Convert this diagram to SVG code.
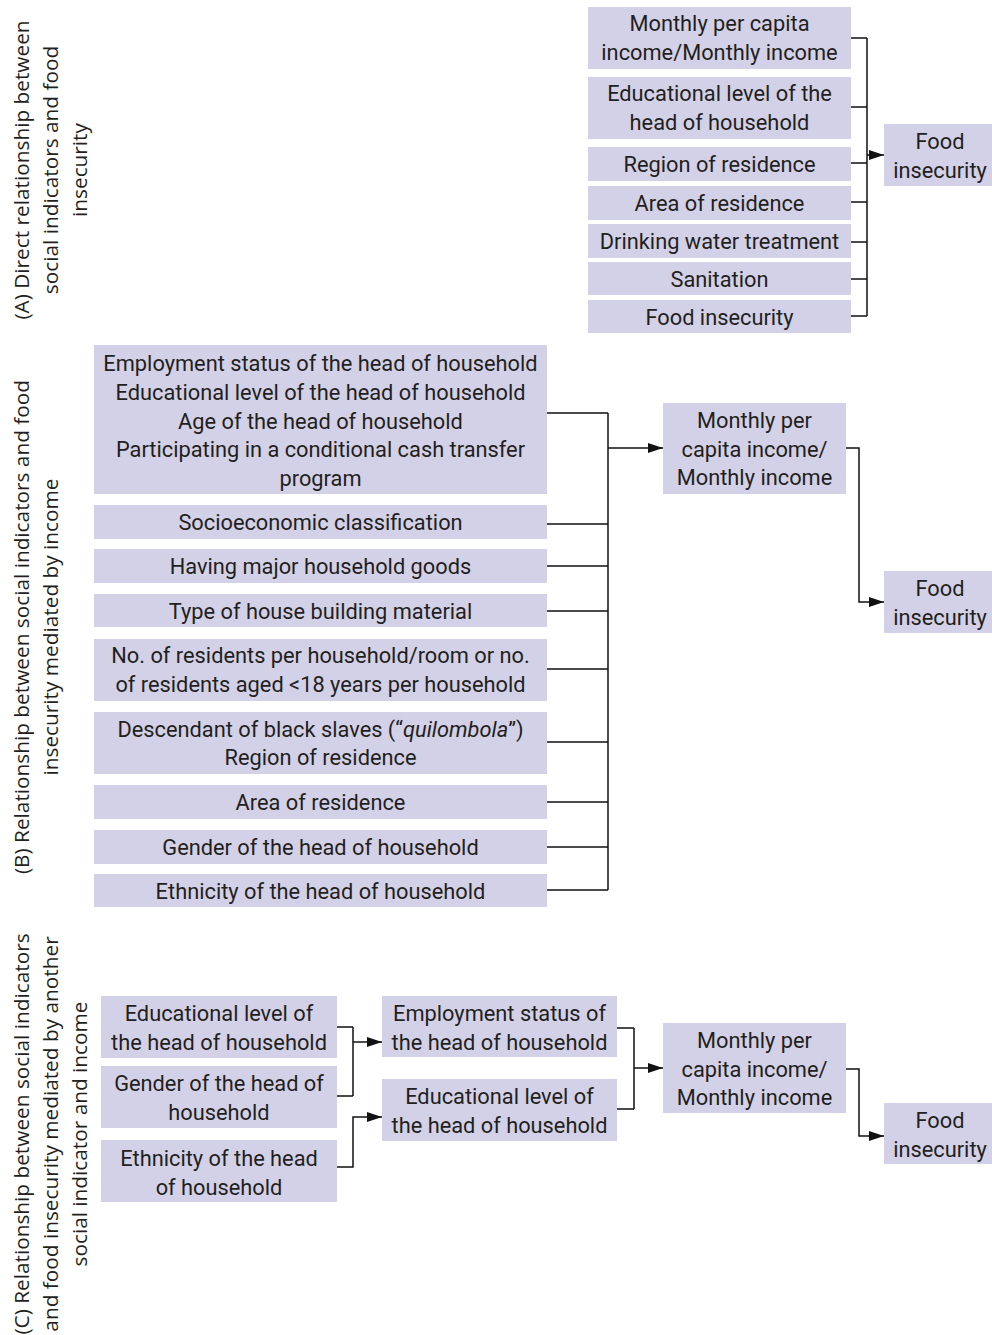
<svg xmlns="http://www.w3.org/2000/svg" width="992" height="1335" viewBox="0 0 992 1335">
<style>
.b{fill:#D3D1E7}
.t{font-family:Roboto,"Liberation Sans",sans-serif;font-size:21.8px;fill:#231F20;text-anchor:middle}
.l{font-family:"Open Sans","Noto Sans",sans-serif;font-size:20.8px;fill:#231F20;text-anchor:middle}
.c{fill:none;stroke:#111;stroke-width:1.5}
</style>
<defs>
<marker id="ah" markerUnits="userSpaceOnUse" markerWidth="16" markerHeight="12" refX="15" refY="6" orient="auto">
<path d="M0,1 L15,6 L0,11 Z" fill="#111"/>
</marker>
</defs>
<rect width="992" height="1335" fill="#fff"/>

<g id="labels">
<text class="l" transform="translate(0,170) rotate(-90)"><tspan x="0" y="29">(A) Direct relationship between</tspan><tspan x="0" y="58">social indicators and food</tspan><tspan x="0" y="87">insecurity</tspan></text>
<text class="l" transform="translate(0,627) rotate(-90)"><tspan x="0" y="29">(B) Relationship between social indicators and food</tspan><tspan x="0" y="58">insecurity mediated by income</tspan></text>
<text class="l" transform="translate(0,1134) rotate(-90)"><tspan x="0" y="29">(C) Relationship between social indicators</tspan><tspan x="0" y="58">and food insecurity mediated by another</tspan><tspan x="0" y="87">social indicator and income</tspan></text>
</g>

<g id="A1"><rect class="b" x="588" y="7" width="263" height="62"/><text class="t"><tspan x="719.5" y="31">Monthly per capita</tspan><tspan x="719.5" y="60">income/Monthly income</tspan></text></g>
<g id="A2"><rect class="b" x="588" y="77" width="263" height="62"/><text class="t"><tspan x="719.5" y="101">Educational level of the</tspan><tspan x="719.5" y="130">head of household</tspan></text></g>
<g id="A3"><rect class="b" x="588" y="147" width="263" height="34"/><text class="t" x="719.5" y="172">Region of residence</text></g>
<g id="A4"><rect class="b" x="588" y="186" width="263" height="34"/><text class="t" x="719.5" y="211">Area of residence</text></g>
<g id="A5"><rect class="b" x="588" y="224" width="263" height="34"/><text class="t" x="719.5" y="249">Drinking water treatment</text></g>
<g id="A6"><rect class="b" x="588" y="262" width="263" height="33"/><text class="t" x="719.5" y="287">Sanitation</text></g>
<g id="A7"><rect class="b" x="588" y="300" width="263" height="33"/><text class="t" x="719.5" y="325">Food insecurity</text></g>
<g id="AF"><rect class="b" x="884" y="124" width="108" height="62"/><text class="t"><tspan x="940" y="149">Food</tspan><tspan x="940" y="178">insecurity</tspan></text></g>

<g id="B1"><rect class="b" x="94" y="345" width="453" height="149"/><text class="t"><tspan x="320.5" y="371">Employment status of the head of household</tspan><tspan x="320.5" y="400">Educational level of the head of household</tspan><tspan x="320.5" y="429">Age of the head of household</tspan><tspan x="320.5" y="457">Participating in a conditional cash transfer</tspan><tspan x="320.5" y="486">program</tspan></text></g>
<g id="B2"><rect class="b" x="94" y="505" width="453" height="34"/><text class="t" x="320.5" y="530">Socioeconomic classification</text></g>
<g id="B3"><rect class="b" x="94" y="549" width="453" height="34"/><text class="t" x="320.5" y="574">Having major household goods</text></g>
<g id="B4"><rect class="b" x="94" y="594" width="453" height="33"/><text class="t" x="320.5" y="619">Type of house building material</text></g>
<g id="B5"><rect class="b" x="94" y="639" width="453" height="62"/><text class="t"><tspan x="320.5" y="663">No. of residents per household/room or no.</tspan><tspan x="320.5" y="692">of residents aged &lt;18 years per household</tspan></text></g>
<g id="B6"><rect class="b" x="94" y="712" width="453" height="62"/><text class="t"><tspan x="320.5" y="737">Descendant of black slaves (“<tspan font-style="italic">quilombola</tspan>”)</tspan><tspan x="320.5" y="765">Region of residence</tspan></text></g>
<g id="B7"><rect class="b" x="94" y="785" width="453" height="34"/><text class="t" x="320.5" y="810">Area of residence</text></g>
<g id="B8"><rect class="b" x="94" y="830" width="453" height="34"/><text class="t" x="320.5" y="855">Gender of the head of household</text></g>
<g id="B9"><rect class="b" x="94" y="874" width="453" height="33"/><text class="t" x="320.5" y="899">Ethnicity of the head of household</text></g>
<g id="BM"><rect class="b" x="663" y="403" width="183" height="91"/><text class="t"><tspan x="754.5" y="428">Monthly per</tspan><tspan x="754.5" y="457">capita income/</tspan><tspan x="754.5" y="485">Monthly income</tspan></text></g>
<g id="BF"><rect class="b" x="884" y="571" width="108" height="62"/><text class="t"><tspan x="940" y="596">Food</tspan><tspan x="940" y="625">insecurity</tspan></text></g>

<g id="C1"><rect class="b" x="101" y="996" width="236" height="62"/><text class="t"><tspan x="219" y="1021">Educational level of</tspan><tspan x="219" y="1050">the head of household</tspan></text></g>
<g id="C2"><rect class="b" x="101" y="1066" width="236" height="62"/><text class="t"><tspan x="219" y="1091">Gender of the head of</tspan><tspan x="219" y="1120">household</tspan></text></g>
<g id="C3"><rect class="b" x="101" y="1140" width="236" height="62"/><text class="t"><tspan x="219" y="1166">Ethnicity of the head</tspan><tspan x="219" y="1195">of household</tspan></text></g>
<g id="C4"><rect class="b" x="382" y="996" width="235" height="61"/><text class="t"><tspan x="499.5" y="1021">Employment status of</tspan><tspan x="499.5" y="1050">the head of household</tspan></text></g>
<g id="C5"><rect class="b" x="382" y="1079" width="235" height="62"/><text class="t"><tspan x="499.5" y="1104">Educational level of</tspan><tspan x="499.5" y="1133">the head of household</tspan></text></g>
<g id="CM"><rect class="b" x="663" y="1023" width="183" height="90"/><text class="t"><tspan x="754.5" y="1048">Monthly per</tspan><tspan x="754.5" y="1077">capita income/</tspan><tspan x="754.5" y="1105">Monthly income</tspan></text></g>
<g id="CF"><rect class="b" x="884" y="1103" width="108" height="61"/><text class="t"><tspan x="940" y="1128">Food</tspan><tspan x="940" y="1157">insecurity</tspan></text></g>

<g id="connectors">
<path class="c" d="M851,38 H867 M851,107 H867 M851,163 H867 M851,202 H867 M851,242 H867 M851,279 H867 M851,316 H867 M867,38 V316"/>
<path class="c" d="M867,155 H884" marker-end="url(#ah)"/>
<path class="c" d="M547,413 H608 M547,524 H608 M547,566 H608 M547,611 H608 M547,669 H608 M547,742 H608 M547,802 H608 M547,847 H608 M547,890 H608 M608,413 V890"/>
<path class="c" d="M608,448 H663" marker-end="url(#ah)"/>
<path class="c" d="M846,448 H859 V602 H884" marker-end="url(#ah)"/>
<path class="c" d="M337,1027 H353 M337,1096 H353 M353,1027 V1096"/>
<path class="c" d="M353,1042 H382" marker-end="url(#ah)"/>
<path class="c" d="M337,1167 H353 V1117 H382" marker-end="url(#ah)"/>
<path class="c" d="M617,1028 H634 M617,1109 H634 M634,1028 V1109"/>
<path class="c" d="M634,1068 H663" marker-end="url(#ah)"/>
<path class="c" d="M846,1069 H859 V1136 H884" marker-end="url(#ah)"/>
</g>
</svg>
